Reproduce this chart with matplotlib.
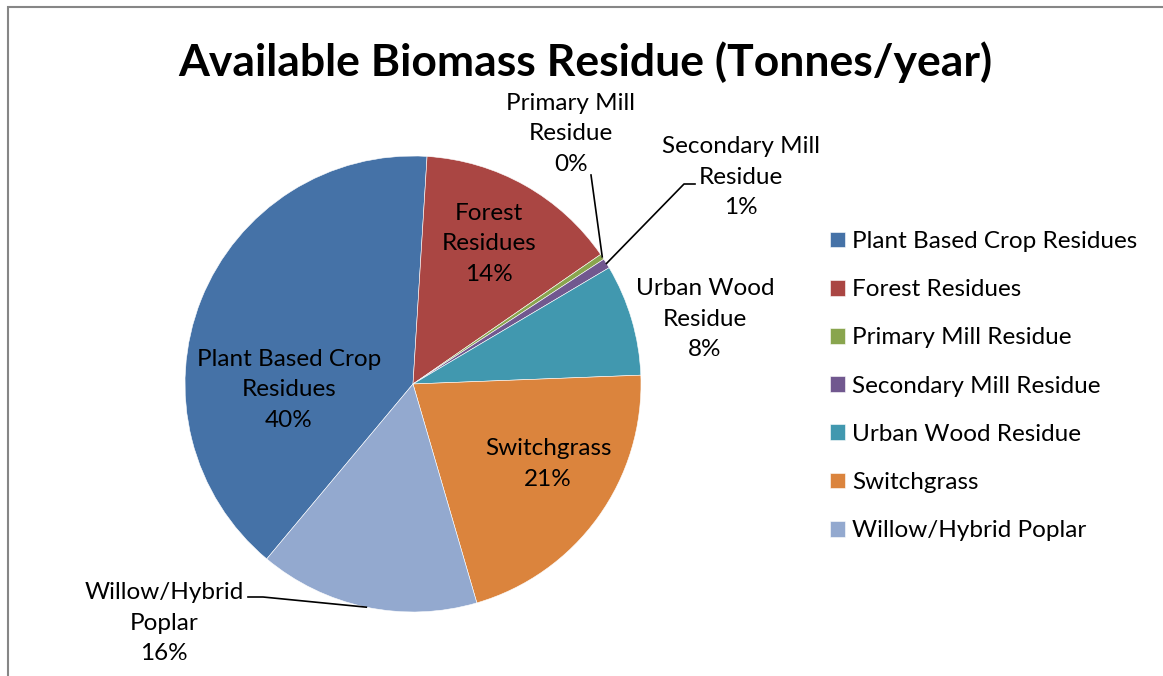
import matplotlib.pyplot as plt
from matplotlib.patches import Rectangle
import numpy as np

###############################################################################
# data

categories = ['Plant Based Crop Residues', 'Forest Residues',
              'Primary Mill Residue', 'Secondary Mill Residue',
              'Urban Wood Residue', 'Switchgrass', 'Willow/Hybrid Poplar']
# share of available residue [%]
shares = [39.9, 14.4, 0.4, 0.7, 7.9, 21.1, 15.6]
# wrapped names used for the data labels
label_names = ['Plant Based Crop\nResidues', 'Forest\nResidues',
               'Primary Mill\nResidue', 'Secondary Mill\nResidue',
               'Urban Wood\nResidue', 'Switchgrass', 'Willow/Hybrid\nPoplar']
colors = ['#4572A7', '#AA4643', '#89A54E', '#71588F',
          '#4198AF', '#DB843D', '#93A9CF']

###############################################################################
# layout (pixel coordinates of the 1163x676 canvas, y measured from top)

W, H = 1163, 676
CENTER = (413, 384)
RADIUS = 228
FONT = 'Lato'
FS = 17.5

# label block centres, and for labels with leader lines the line end point
label_pos = [(289, 390), (489, 244), (571, 134), (741, 177),
             (705, 319), (548, 464), (164, 623)]
leaders = {2: [(591, 175)],
           3: [(684, 184), (695, 184)],
           6: [(263, 597), (248, 597)]}


def py(y):
    ''' converts a top-down pixel row to data y '''
    return H - y


###############################################################################
# plot

fig = plt.figure(figsize=(W / 100, H / 100), dpi=100)
ax = fig.add_axes([0, 0, 1, 1])

wedges, _ = ax.pie(shares, colors=colors, startangle=90 - 219.9,
                   counterclock=False, radius=RADIUS,
                   center=(CENTER[0], py(CENTER[1])),
                   wedgeprops=dict(edgecolor='white', linewidth=0.4))
ax.set_xlim(0, W)
ax.set_ylim(0, H)
ax.set_aspect('equal')
ax.axis('off')

total = sum(shares)
for i, w in enumerate(wedges):
    pct = shares[i] / total * 100
    x, y = label_pos[i]
    ax.text(x, py(y), f'{label_names[i]}\n{pct:.0f}%', ha='center',
            va='center', fontsize=FS, family=FONT, linespacing=1.58)
    if i in leaders:
        mid = np.deg2rad((w.theta1 + w.theta2) / 2)
        xs = [CENTER[0] + RADIUS * np.cos(mid)]
        ys = [py(CENTER[1]) + RADIUS * np.sin(mid)]
        for px_, py_ in leaders[i]:
            xs.append(px_)
            ys.append(py(py_))
        ax.plot(xs, ys, color='black', lw=1.2)

ax.text(585, py(62), 'Available Biomass Residue (Tonnes/year)',
        ha='center', va='center', fontsize=32, fontweight='bold',
        family=FONT)

leg = ax.legend(wedges, categories, loc='upper left', frameon=False,
                bbox_to_anchor=(830 / W, 1 - 231 / H),
                prop=dict(family=FONT, size=FS), handlelength=0.62,
                handleheight=0.62, handletextpad=0.3, labelspacing=1.12,
                borderaxespad=0, borderpad=0)

# chart area border (cropped at right and bottom)
ax.add_patch(Rectangle((8, -20), W + 20, H - 7 + 20, fill=False,
                       edgecolor='#868686', lw=1.5, clip_on=False))

plt.savefig('out.png', dpi=100)
